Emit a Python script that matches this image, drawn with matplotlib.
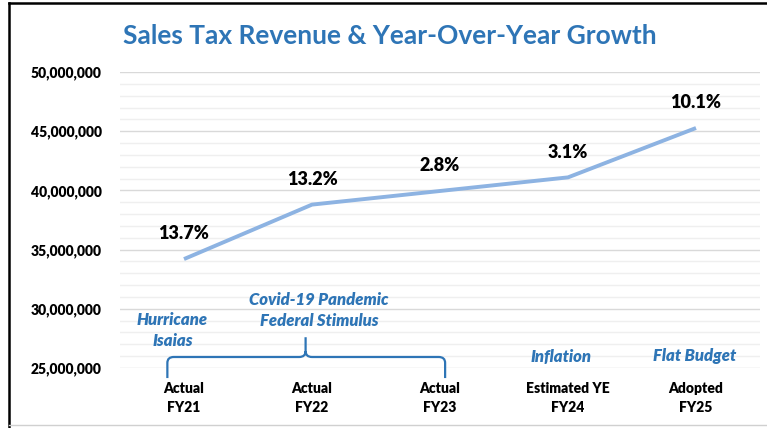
import matplotlib.pyplot as plt
from matplotlib.patches import PathPatch
from matplotlib.path import Path
from matplotlib.ticker import MultipleLocator, FuncFormatter
import matplotlib.lines as mlines

plt.rcParams['font.family'] = ['Lato', 'DejaVu Sans']

# ----- Data -----
categories = ['Actual\nFY21', 'Actual\nFY22', 'Actual\nFY23', 'Estimated YE\nFY24', 'Adopted\nFY25']
revenue = [34_200_000, 38_800_000, 39_950_000, 41_100_000, 45_270_000]
growth = ['13.7%', '13.2%', '2.8%', '3.1%', '10.1%']

BLUE = '#2e75b6'
LINE = '#8db3e2'

fig = plt.figure(figsize=(7.67, 4.28), dpi=100)
ax = fig.add_axes([120/767, 60/428, 640/767, 296/428])

xs = list(range(len(categories)))
ax.plot(xs, revenue, color=LINE, lw=2.8, solid_capstyle='butt', zorder=3)

for x, v, g in zip(xs, revenue, growth):
    ax.annotate(g, (x, v), xytext=(0, 12), textcoords='offset points',
                ha='center', va='bottom', fontsize=13, fontweight='heavy', color='black')

ax.set_xlim(-0.5, 4.5)
ax.set_ylim(25_000_000, 50_000_000)
ax.yaxis.set_major_locator(MultipleLocator(5_000_000))
ax.yaxis.set_minor_locator(MultipleLocator(1_000_000))
ax.yaxis.set_major_formatter(FuncFormatter(lambda v, _: f'{v:,.0f}'))
ax.set_xticks(xs)
ax.set_xticklabels(categories, fontsize=10, fontweight='heavy', linespacing=1.6)
for lbl in ax.get_yticklabels():
    lbl.set_fontsize(10)
    lbl.set_fontweight('heavy')

ax.grid(axis='y', which='major', color='#d9d9d9', lw=1.0)
ax.grid(axis='y', which='minor', color='#efefef', lw=1.0)
ax.set_axisbelow(True)
ax.tick_params(axis='both', which='both', length=0)
ax.tick_params(axis='y', pad=13)
ax.tick_params(axis='x', pad=10)
for s in ax.spines.values():
    s.set_visible(False)

# ----- Notes -----
note = dict(color=BLUE, fontsize=12, fontweight='heavy', style='italic',
            ha='center', va='center', linespacing=1.4)
ax.text(-0.09, 28_200_000, 'Hurricane\nIsaias', **note)
ax.text(1.055, 29_850_000, 'Covid-19 Pandemic\nFederal Stimulus', **note)
ax.text(2.945, 25_950_000, 'Inflation', **note)
ax.text(3.99, 26_000_000, 'Flat Budget', **note)

# curly brace spanning FY21-FY23
bl, br, bm = -0.13, 2.04, 0.95
y_end, y_bar, y_tip = 24_150_000, 25_930_000, 27_600_000
rx, ry = 0.05, 500_000
verts = [
    (bl, y_end), (bl, y_bar - ry), (bl, y_bar), (bl + rx, y_bar),
    (bm - rx, y_bar), (bm, y_bar), (bm, y_bar + ry), (bm, y_tip),
    (bm, y_bar + ry), (bm, y_bar), (bm + rx, y_bar),
    (br - rx, y_bar), (br, y_bar), (br, y_bar - ry), (br, y_end),
]
codes = [Path.MOVETO, Path.LINETO, Path.CURVE3, Path.CURVE3,
         Path.LINETO, Path.CURVE3, Path.CURVE3, Path.LINETO,
         Path.MOVETO, Path.CURVE3, Path.CURVE3,
         Path.LINETO, Path.CURVE3, Path.CURVE3, Path.LINETO]
ax.add_patch(PathPatch(Path(verts, codes), fill=False, edgecolor=BLUE, lw=1.6,
                       clip_on=False, zorder=4))

fig.text(390/767, 1 - 36/428, 'Sales Tax Revenue & Year-Over-Year Growth',
         ha='center', va='center', fontsize=19, fontweight='bold', color=BLUE)

# frame round the figure
fig.add_artist(mlines.Line2D([9/767, 9/767], [0, 1 - 3/428], color='black', lw=1.8))
fig.add_artist(mlines.Line2D([9/767, 1], [1 - 3/428, 1 - 3/428], color='black', lw=1.8))
fig.add_artist(mlines.Line2D([9/767, 1], [3/428, 3/428], color='#d0d0d0', lw=1.0))

fig.savefig('out.png', dpi=100)
